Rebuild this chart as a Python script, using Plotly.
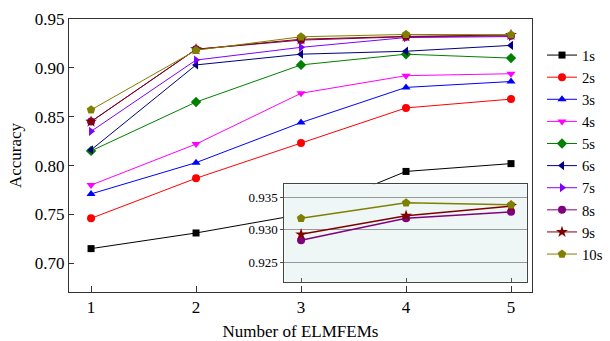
import plotly.graph_objects as go

x = [1, 2, 3, 4, 5]
labels = ["1s", "2s", "3s", "4s", "5s", "6s", "7s", "8s", "9s", "10s"]
s1 = [0.715, 0.731, 0.750, 0.794, 0.802]
s2 = [0.746, 0.787, 0.823, 0.859, 0.868]
s3 = [0.771, 0.803, 0.844, 0.880, 0.886]
s4 = [0.780, 0.822, 0.874, 0.892, 0.894]
s5 = [0.815, 0.865, 0.903, 0.914, 0.910]
s6 = [0.816, 0.903, 0.914, 0.917, 0.923]
s7 = [0.835, 0.908, 0.921, 0.931, 0.932]
s8 = [0.845, 0.919, 0.9284, 0.9318, 0.9328]
s9 = [0.845, 0.919, 0.9293, 0.9322, 0.9337]
s10 = [0.857, 0.918, 0.9318, 0.9342, 0.9339]
series = [s1, s2, s3, s4, s5, s6, s7, s8, s9, s10]

colors = ["#000000", "#ff0000", "#0000ff", "#ff00ff", "#008000",
          "#000080", "#8000ff", "#800080", "#800000", "#808000"]
symbols = ["square", "circle", "triangle-up", "triangle-down", "diamond",
           "triangle-left", "triangle-right", "circle", "star", "pentagon"]
sizes = [7, 8, 8, 8, 8, 8, 8, 8, 9, 9]

inset_idx = [7, 8, 9]
inset_x = x[2:]

SERIF = "Liberation Serif"

fig = go.Figure()
for lab, ys, c, sym, sz in zip(labels, series, colors, symbols, sizes):
    fig.add_trace(go.Scatter(
        x=x, y=ys, name=lab, mode="lines+markers",
        line=dict(color=c, width=1),
        marker=dict(symbol=sym, size=sz, color=c),
        xaxis="x", yaxis="y",
    ))

for i in inset_idx:
    fig.add_trace(go.Scatter(
        x=inset_x, y=series[i][2:], name=labels[i], mode="lines+markers",
        line=dict(color=colors[i], width=1.5),
        marker=dict(symbol=symbols[i], size=sizes[i], color=colors[i]),
        xaxis="x2", yaxis="y2", showlegend=False,
    ))

# inset background (opaque, covers main traces beneath)
fig.add_shape(type="rect", xref="x2", yref="y2", x0=2.84, x1=5.149,
              y0=0.92194, y1=0.93708, layer="below",
              fillcolor="#eef6f6", line=dict(width=0))

axis_font = dict(family=SERIF, size=17, color="black")
fig.update_layout(
    width=610, height=341,
    margin=dict(l=69, r=78, t=19, b=49, autoexpand=False),
    paper_bgcolor="white", plot_bgcolor="white",
    font=dict(family=SERIF, color="black"),
    xaxis=dict(domain=[0, 1], range=[0.79, 5.2], tickvals=x,
               ticks="inside", ticklen=6, tickwidth=1, tickcolor="#333",
               showline=True, mirror=True, linecolor="#333", linewidth=1,
               showgrid=False, zeroline=False, tickfont=axis_font,
               title=dict(text="Number of ELMFEMs", font=axis_font, standoff=8)),
    yaxis=dict(domain=[0, 1], range=[0.6706, 0.95],
               tickvals=[0.70, 0.75, 0.80, 0.85, 0.90, 0.95], tickformat=".2f",
               ticks="inside", ticklen=5, tickwidth=1, tickcolor="#333",
               showline=True, mirror=True, linecolor="#333", linewidth=1,
               showgrid=False, zeroline=False, tickfont=axis_font,
               title=dict(text="Accuracy", font=axis_font, standoff=8)),
    xaxis2=dict(domain=[0.465, 0.9886], range=[2.84, 5.149], anchor="y2",
                tickvals=[3, 4, 5], showticklabels=False,
                ticks="inside", ticklen=4, tickcolor="#555",
                showline=True, mirror=True, linecolor="#444", linewidth=1,
                showgrid=False, zeroline=False),
    yaxis2=dict(domain=[0.0377, 0.3945], range=[0.92194, 0.93708], anchor="x2",
                tickvals=[0.925, 0.930, 0.935], tickformat=".3f",
                ticks="outside", ticklen=3, tickcolor="#555",
                showline=True, mirror=True, linecolor="#444", linewidth=1,
                showgrid=True, gridcolor="#999", gridwidth=1, zeroline=False,
                tickfont=dict(family=SERIF, size=13, color="black")),
    legend=dict(x=1.0216, xanchor="left", y=0.9267, yanchor="top",
                font=dict(family=SERIF, size=14.7, color="black"),
                bgcolor="rgba(0,0,0,0)", tracegroupgap=0),
    showlegend=True,
)

fig.write_html("out.html", config={"displayModeBar": False})
